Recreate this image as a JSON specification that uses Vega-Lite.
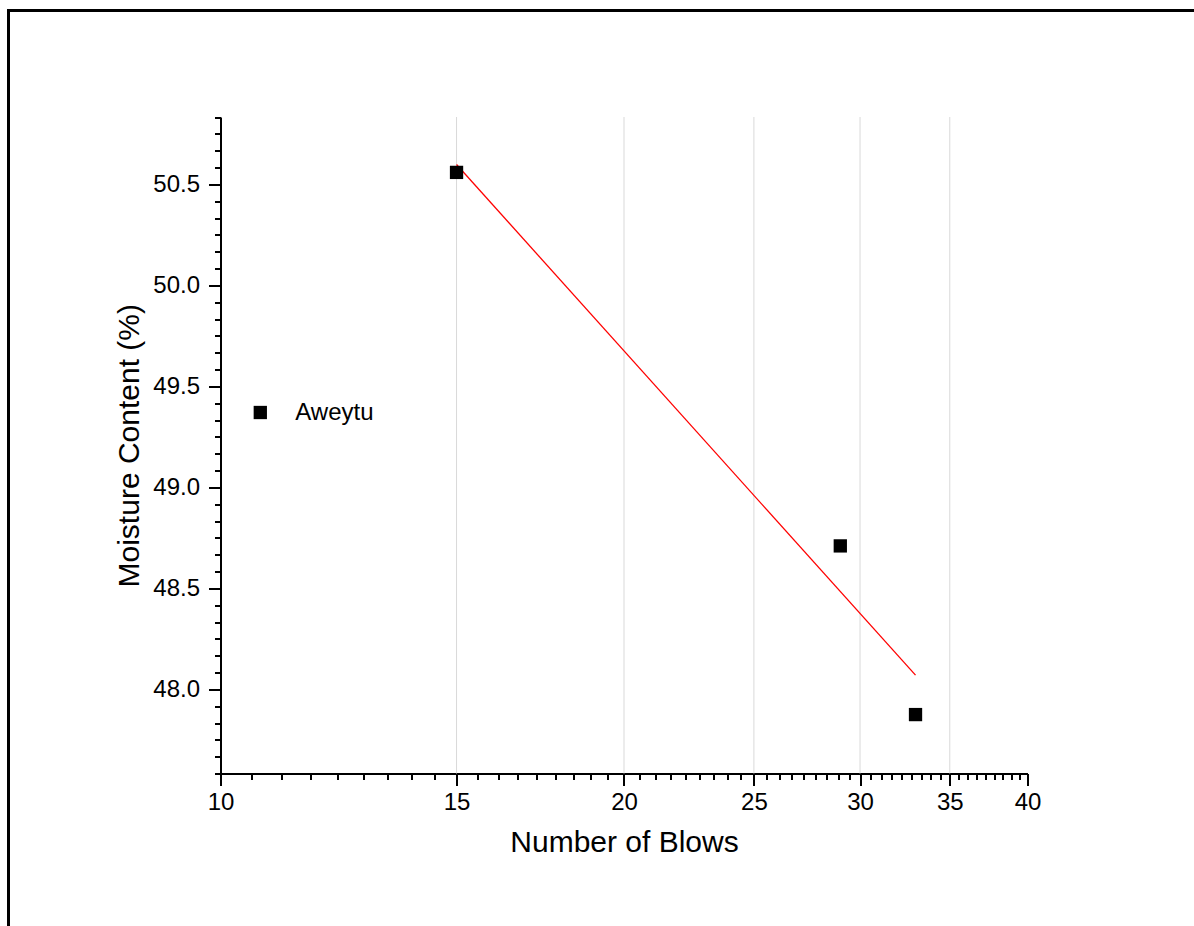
{
  "$schema": "https://vega.github.io/schema/vega-lite/v6.json",
  "autosize": "none",
  "padding": {"left": 8.5, "top": 10.5, "right": 0, "bottom": 0},
  "width": 1200,
  "height": 1000,
  "background": "white",
  "config": {
    "font": "Liberation Sans",
    "view": {"stroke": "black", "strokeWidth": 3},
    "axis": {
      "domainColor": "black",
      "domainWidth": 2,
      "tickColor": "black",
      "tickWidth": 2,
      "labelColor": "black",
      "labelFont": "Liberation Sans",
      "labelFontSize": 24,
      "titleColor": "black",
      "titleFont": "Liberation Sans",
      "titleFontSize": 30,
      "titleFontWeight": "normal",
      "grid": false,
      "labelOverlap": false,
      "labelFlush": false
    }
  },
  "resolve": {"axis": {"x": "independent", "y": "independent"}},
  "layer": [
    {
      "data": {"values": [{"grid": 15}, {"grid": 20}, {"grid": 25}, {"grid": 30}, {"grid": 35}]},
      "mark": {"type": "rule", "color": "#d9d9d9", "strokeWidth": 1},
      "encoding": {
        "x": {
          "field": "grid",
          "type": "quantitative",
          "scale": {"type": "log", "domain": [10, 40], "range": [212, 1019], "nice": false, "zero": false},
          "axis": {
            "orient": "bottom",
            "offset": -237,
            "values": [10, 15, 20, 25, 30, 35, 40],
            "format": "d",
            "tickSize": 12,
            "labelPadding": 5,
            "title": "Number of Blows",
            "titlePadding": 13
          }
        },
        "y": {
          "datum": 47.5833,
          "type": "quantitative",
          "scale": {"domain": [47.5833, 50.8333], "range": [763, 106.5], "nice": false, "zero": false},
          "axis": null
        },
        "y2": {"datum": 50.8333}
      }
    },
    {
      "data": {"values": [{"blows": 15, "fit": 50.598}, {"blows": 33, "fit": 48.07}]},
      "mark": {"type": "line", "color": "red", "strokeWidth": 1.3},
      "encoding": {
        "x": {
          "field": "blows",
          "type": "quantitative",
          "axis": {
            "orient": "bottom",
            "offset": -237,
            "values": [10.5556, 11.1111, 11.6667, 12.2222, 12.7778, 13.3333, 13.8889, 14.4444,
                       15.5556, 16.1111, 16.6667, 17.2222, 17.7778, 18.3333, 18.8889, 19.4444,
                       20.5556, 21.1111, 21.6667, 22.2222, 22.7778, 23.3333, 23.8889, 24.4444,
                       25.5556, 26.1111, 26.6667, 27.2222, 27.7778, 28.3333, 28.8889, 29.4444,
                       30.5556, 31.1111, 31.6667, 32.2222, 32.7778, 33.3333, 33.8889, 34.4444,
                       35.5556, 36.1111, 36.6667, 37.2222, 37.7778, 38.3333, 38.8889, 39.4444],
            "tickSize": 6,
            "labels": false,
            "domain": false,
            "title": null
          }
        },
        "y": {
          "field": "fit",
          "type": "quantitative",
          "axis": {
            "orient": "left",
            "offset": -212,
            "values": [48.0, 48.5, 49.0, 49.5, 50.0, 50.5],
            "format": ".1f",
            "tickSize": 12,
            "labelPadding": 9,
            "title": "Moisture Content (%)",
            "titlePadding": 8
          }
        }
      }
    },
    {
      "data": {"values": [
        {"blows": 15, "mc": 50.559, "series": "Aweytu"},
        {"blows": 29, "mc": 48.71, "series": "Aweytu"},
        {"blows": 33, "mc": 47.875, "series": "Aweytu"}
      ]},
      "mark": {"type": "point", "shape": "square", "filled": true, "size": 177, "opacity": 1},
      "encoding": {
        "x": {"field": "blows", "type": "quantitative", "axis": null},
        "y": {
          "field": "mc",
          "type": "quantitative",
          "axis": {
            "orient": "left",
            "offset": -212,
            "values": [47.5833, 47.6667, 47.75, 47.8333, 47.9167,
                       48.0833, 48.1667, 48.25, 48.3333, 48.4167,
                       48.5833, 48.6667, 48.75, 48.8333, 48.9167,
                       49.0833, 49.1667, 49.25, 49.3333, 49.4167,
                       49.5833, 49.6667, 49.75, 49.8333, 49.9167,
                       50.0833, 50.1667, 50.25, 50.3333, 50.4167,
                       50.5833, 50.6667, 50.75, 50.8333],
            "tickSize": 6,
            "labels": false,
            "domain": false,
            "title": null
          }
        },
        "color": {
          "field": "series",
          "type": "nominal",
          "scale": {"domain": ["Aweytu"], "range": ["black"]},
          "legend": {
            "orient": "none",
            "legendX": 239.8,
            "legendY": 390,
            "title": null,
            "padding": 0,
            "symbolType": "square",
            "symbolSize": 177,
            "symbolFillColor": "black",
            "symbolStrokeWidth": 0,
            "labelFontSize": 24,
            "labelColor": "black",
            "labelFont": "Liberation Sans",
            "labelOffset": 23
          }
        }
      }
    }
  ]
}
